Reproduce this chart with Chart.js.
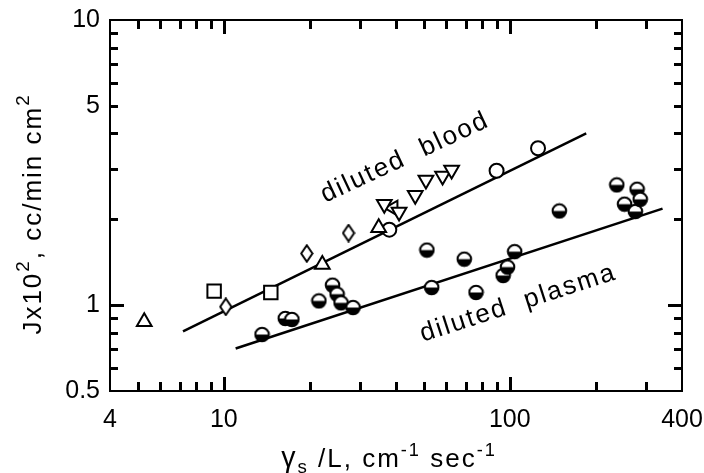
<!DOCTYPE html>
<html>
<head>
<meta charset="utf-8">
<script src="https://cdn.jsdelivr.net/npm/chart.js@4.4.0/dist/chart.umd.min.js"></script>
<style>
  html, body { margin: 0; padding: 0; background: #fff; }
</style>
</head>
<body>
<canvas id="chart" width="704" height="473"></canvas>
<script>
// tick values and labels
const xTicks = [4, 5, 6, 7, 8, 9, 10, 20, 30, 40, 50, 60, 70, 80, 90, 100, 200, 300, 400];
const yTicks = [0.5, 0.6, 0.7, 0.8, 0.9, 1, 2, 3, 4, 5, 6, 7, 8, 9, 10];
const xTickLabels = [4, 10, 100, 400];
const yTickLabels = [0.5, 1, 5, 10];
const xMajor = [10, 100];
const yMajor = [1];

// fitted lines (end points)
const bloodLineX = [7.2, 185];
const bloodLineY = [0.81, 4.0];
const plasmaLineX = [11, 342];
const plasmaLineY = [0.705, 2.18];

// diluted blood points, by symbol
const triUpX = [5.27, 22.1, 34.8];
const triUpY = [0.874, 1.39, 1.87];
const squareX = [9.25, 14.6];
const squareY = [1.12, 1.108];
const diamondX = [10.16, 19.5, 27.3];
const diamondY = [0.987, 1.518, 1.79];
const circleX = [37.9, 89.9, 125.5];
const circleY = [1.84, 2.96, 3.55];
const triDownX = [36.4, 41.0, 46.7, 50.9, 58.2, 62.6];
const triDownY = [2.26, 2.12, 2.43, 2.75, 2.84, 2.98];
const triLeftX = [39.1];
const triLeftY = [2.19];

// diluted plasma points
const plasmaX = [13.6, 16.4, 17.3, 21.5, 24.0, 24.9, 25.7, 28.3, 51.3, 53.3, 69.3, 76.2, 94.8, 98.2, 104, 149, 236.6, 251.8, 274.8, 278.6, 285.8];
const plasmaY = [0.789, 0.898, 0.891, 1.035, 1.175, 1.093, 1.019, 0.981, 1.56, 1.153, 1.45, 1.108, 1.27, 1.36, 1.54, 2.14, 2.64, 2.26, 2.13, 2.55, 2.35];

const FONT = '"Liberation Sans", Arial, sans-serif';

function pts(xs, ys) {
  return xs.map((x, i) => ({ x: x, y: ys[i] }));
}

// half filled circle marker
function halfCircle() {
  const c = document.createElement('canvas');
  c.width = 17; c.height = 17;
  const g = c.getContext('2d');
  const r = 6.8;
  g.beginPath(); g.arc(8.5, 8.5, r, 0, Math.PI * 2); g.fillStyle = '#fff'; g.fill();
  g.beginPath(); g.arc(8.5, 8.5, r, 0, Math.PI); g.closePath(); g.fillStyle = '#000'; g.fill();
  g.beginPath(); g.arc(8.5, 8.5, r, 0, Math.PI * 2); g.lineWidth = 2; g.strokeStyle = '#000'; g.stroke();
  return c;
}

// narrow diamond marker
function diamond() {
  const c = document.createElement('canvas');
  c.width = 14; c.height = 19;
  const g = c.getContext('2d');
  g.beginPath();
  g.moveTo(7, 1.3); g.lineTo(12.6, 9.5); g.lineTo(7, 17.7); g.lineTo(1.4, 9.5); g.closePath();
  g.fillStyle = '#fff'; g.fill();
  g.lineWidth = 2; g.strokeStyle = '#000'; g.stroke();
  return c;
}

function marker(xs, ys, style, radius, rotation) {
  return {
    type: 'scatter',
    data: pts(xs, ys),
    pointStyle: style,
    pointRadius: radius,
    pointRotation: rotation || 0,
    pointBackgroundColor: '#fff',
    pointBorderColor: '#000',
    pointBorderWidth: 2,
    order: 1
  };
}

function fitLine(xs, ys) {
  return {
    type: 'line',
    data: pts(xs, ys),
    borderColor: '#000',
    borderWidth: 2.5,
    pointRadius: 0,
    fill: false,
    order: 2
  };
}

// text drawn in parts: [text, vertical shift in em, size factor]
function drawRich(ctx, parts, size) {
  let total = 0;
  parts.forEach(p => {
    ctx.font = (size * p[2]) + 'px ' + FONT;
    total += ctx.measureText(p[0]).width;
  });
  let x = -total / 2;
  parts.forEach(p => {
    ctx.font = (size * p[2]) + 'px ' + FONT;
    ctx.fillText(p[0], x, p[1] * size);
    x += ctx.measureText(p[0]).width;
  });
}

const notes = [
  { text: 'diluted  blood', x: 44.1, y: 3.12, angle: -25 },
  { text: 'diluted  plasma', x: 109, y: 0.96, angle: -18 }
];

// frame, inward ticks, titles and curve labels
const decorPlugin = {
  id: 'decor',
  afterDraw(chart) {
    const ctx = chart.ctx;
    const a = chart.chartArea;
    const sx = chart.scales.x;
    const sy = chart.scales.y;
    ctx.save();
    ctx.setTransform(1, 0, 0, 1, 0, 0);
    ctx.globalAlpha = 1;
    ctx.globalCompositeOperation = 'source-over';
    ctx.fillStyle = '#000';
    xTicks.slice(1, -1).forEach(v => {
      const px = Math.round(sx.getPixelForValue(v));
      const len = xMajor.indexOf(v) >= 0 ? 14 : 9;
      ctx.fillRect(px - 1, a.bottom - len, 3, len);
      ctx.fillRect(px - 1, a.top, 3, len);
    });
    yTicks.slice(1, -1).forEach(v => {
      const py = Math.round(sy.getPixelForValue(v));
      const len = yMajor.indexOf(v) >= 0 ? 14 : 8;
      ctx.fillRect(a.left, py - 1, len, 3);
      ctx.fillRect(a.right - len, py - 1, len, 3);
    });
    ctx.strokeStyle = '#000';
    ctx.lineWidth = 2;
    ctx.strokeRect(a.left, a.top, a.right - a.left, a.bottom - a.top);

    ctx.letterSpacing = '2px';
    ctx.textBaseline = 'alphabetic';
    ctx.textAlign = 'left';

    // y axis title
    ctx.save();
    ctx.translate(41, 214);
    ctx.rotate(-Math.PI / 2);
    drawRich(ctx, [['Jx10', 0, 1], ['2', -0.45, 0.72], [', cc/min cm', 0, 1], ['2', -0.45, 0.72]], 26);
    ctx.restore();

    // x axis title
    ctx.save();
    ctx.translate(389, 467);
    drawRich(ctx, [['\u03b3', 0, 1.1], ['s', 0.22, 0.72], [' /L, cm', 0, 1], ['-1', -0.42, 0.7], [' sec', 0, 1], ['-1', -0.42, 0.7]], 26);
    ctx.restore();

    // curve labels
    notes.forEach(n => {
      ctx.save();
      ctx.translate(sx.getPixelForValue(n.x), sy.getPixelForValue(n.y));
      ctx.rotate(n.angle * Math.PI / 180);
      ctx.font = '26px ' + FONT;
      ctx.textAlign = 'center';
      ctx.fillText(n.text, 0, 0);
      ctx.restore();
    });
    ctx.restore();
  }
};

function labelFor(list) {
  return function (value) {
    const hit = list.find(v => Math.abs(v - value) < 1e-9 * Math.max(1, v));
    return hit === undefined ? '' : String(hit);
  };
}

new Chart(document.getElementById('chart'), {
  type: 'scatter',
  data: {
    datasets: [
      fitLine(bloodLineX, bloodLineY),
      fitLine(plasmaLineX, plasmaLineY),
      marker(triUpX, triUpY, 'triangle', 8.5, 0),
      marker(squareX, squareY, 'rect', 9.5, 0),
      marker(diamondX, diamondY, diamond(), 8, 0),
      marker(circleX, circleY, 'circle', 7, 0),
      marker(triDownX, triDownY, 'triangle', 8.5, 180),
      marker(triLeftX, triLeftY, 'triangle', 8.5, 270),
      marker(plasmaX, plasmaY, halfCircle(), 8, 0)
    ]
  },
  options: {
    responsive: false,
    animation: false,
    devicePixelRatio: 1,
    layout: { padding: { top: 20, right: 22, left: 0, bottom: 0 } },
    plugins: { legend: { display: false }, tooltip: { enabled: false } },
    scales: {
      x: {
        type: 'logarithmic',
        min: 4,
        max: 400,
        grid: { display: false, drawTicks: false },
        border: { display: false },
        ticks: {
          autoSkip: false, maxRotation: 0, padding: 14, color: '#000',
          font: { size: 25, family: FONT },
          callback: labelFor(xTickLabels)
        },
        afterBuildTicks(scale) { scale.ticks = xTicks.map(v => ({ value: v })); },
        afterFit(scale) { scale.height = 82; scale.paddingLeft = 0; scale.paddingRight = 0; }
      },
      y: {
        type: 'logarithmic',
        min: 0.5,
        max: 10,
        grid: { display: false, drawTicks: false },
        border: { display: false },
        ticks: {
          autoSkip: false, padding: 10, color: '#000',
          font: { size: 25, family: FONT },
          callback: labelFor(yTickLabels)
        },
        afterBuildTicks(scale) { scale.ticks = yTicks.map(v => ({ value: v })); },
        afterFit(scale) { scale.width = 110; scale.paddingTop = 0; scale.paddingBottom = 0; }
      }
    }
  },
  plugins: [decorPlugin]
});
</script>
</body>
</html>
